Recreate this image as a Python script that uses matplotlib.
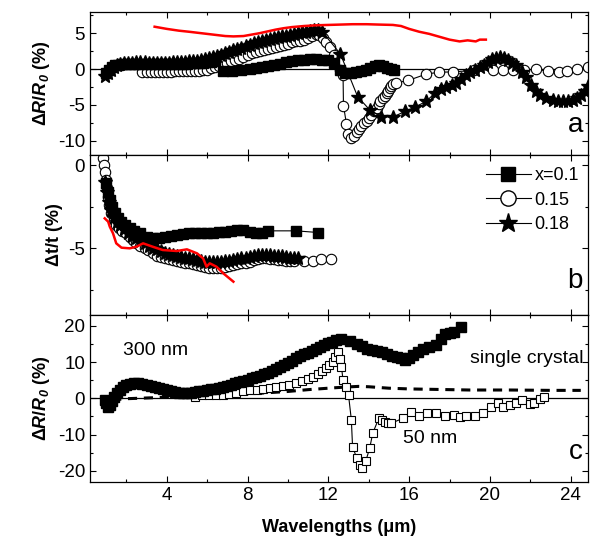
import matplotlib
matplotlib.use("Agg")
import matplotlib.pyplot as plt
from matplotlib.lines import Line2D
from matplotlib.ticker import MultipleLocator


OUTPUT_PNG = "out.png"

# ---- panel a: dR/R0 of films, x = 0.1 / 0.15 / 0.18 ----
A_SQ_X = [1.0, 1.15, 1.3, 1.45, 1.6, 1.8, 2.0, 2.2, 2.4, 2.6, 2.8, 3.0, 3.2, 3.4, 3.6,
          3.8, 4.0, 4.2, 4.4, 4.6, 4.8, 5.0, 5.2, 5.4, 5.6, 5.8, 6.0, 6.2, 6.4,
          6.8, 7.25, 7.7, 8.1, 8.4, 8.7, 9.0, 9.3, 9.6, 9.9, 10.2, 10.5, 10.8, 11.1,
          11.4, 11.7, 12.0, 12.3, 12.6, 12.85, 13.1, 13.35, 13.6, 13.85, 14.05, 14.3,
          14.5, 14.7, 14.9, 15.1, 15.25]
A_SQ_Y = [-0.6, -0.1, 0.3, 0.5, 0.6, 0.65, 0.7, 0.7, 0.75, 0.75, 0.75, 0.7, 0.7, 0.7, 0.7,
          0.7, 0.7, 0.7, 0.7, 0.75, 0.75, 0.75, 0.8, 0.8, 0.85, 0.9, 0.95, 1.0, 1.05,
          -0.25, -0.25, -0.1, 0.0, 0.1, 0.25, 0.4, 0.55, 0.75, 0.95, 1.1, 1.2, 1.3, 1.35,
          1.35, 1.3, 1.2, 0.8, -0.1, -0.5, -0.55, -0.45, -0.3, -0.1, 0.1, 0.4,
          0.6, 0.4, 0.1, -0.05, -0.1]

A_CI_X = [2.8, 3.0, 3.2, 3.4, 3.6, 3.8, 4.0, 4.2, 4.4, 4.6, 4.8, 5.0, 5.2, 5.4, 5.6, 5.8,
          6.0, 6.2, 6.4, 6.6, 6.8, 7.0, 7.2, 7.4, 7.6, 7.8, 8.0, 8.2, 8.4, 8.6, 8.8,
          9.0, 9.2, 9.4, 9.6, 9.8, 10.0, 10.2, 10.4, 10.6, 10.8, 11.0, 11.2, 11.4,
          11.55, 11.75, 11.9, 12.07, 12.3, 12.56, 12.73, 12.75, 12.9, 12.98, 13.14,
          13.25, 13.4, 13.5, 13.64, 13.75, 13.9, 14.0, 14.13, 14.25, 14.4, 14.5, 14.58,
          14.7, 14.8, 14.9, 14.96, 15.05, 15.1, 15.2, 15.34,
          15.95, 16.86, 17.47, 18.17, 19.2, 20.15, 20.65, 21.15, 21.7, 22.3, 22.9,
          23.4, 23.8, 24.3, 24.86]
A_CI_Y = [-0.4, -0.45, -0.45, -0.45, -0.4, -0.4, -0.35, -0.35, -0.3, -0.3, -0.3, -0.3,
          -0.3, -0.25, -0.25, -0.2, -0.1, 0.1, 0.25, 0.45, 0.65, 0.85, 1.05, 1.25, 1.45,
          1.7, 1.95, 2.2, 2.4, 2.55, 2.7, 2.8, 2.95, 3.1, 3.25, 3.4, 3.55, 3.7, 3.85,
          3.95, 4.1, 4.3, 4.6, 4.9, 4.8, 4.3, 3.7, 3.1, 2.0, -0.1, -0.9, -5.1, -7.7,
          -9.1, -9.6, -9.3, -8.8, -8.4, -8.0, -7.6, -7.3, -6.8, -6.35, -5.9, -5.4, -4.9,
          -4.5, -4.1, -3.8, -3.3, -3.0, -2.6, -2.4, -2.1, -1.95,
          -1.6, -0.7, -0.45, -0.4, -0.2, -0.1, -0.1, -0.2, -0.1, -0.05, -0.3,
          -0.4, -0.3, 0.0, 0.3]

A_ST_X = [0.95, 1.1, 1.25, 1.4, 1.55, 1.7, 1.9, 2.1, 2.3, 2.5, 2.7, 2.9, 3.1, 3.3, 3.5,
          3.7, 3.9, 4.1, 4.3, 4.5, 4.7, 4.9, 5.1, 5.3, 5.5, 5.7, 5.9, 6.1, 6.3, 6.5,
          6.7, 6.9, 7.1, 7.3, 7.5, 7.7, 7.9, 8.1, 8.3, 8.5, 8.7, 8.9, 9.1, 9.3, 9.5,
          9.7, 9.9, 10.1, 10.3, 10.5, 10.7, 10.9, 11.1, 11.3, 11.5, 11.7,
          12.6, 13.45, 14.05, 14.6, 15.2, 15.8, 16.3, 16.85, 17.3,
          17.6, 17.85, 18.1, 18.3, 18.55, 18.8, 19.0, 19.25, 19.5, 19.7, 19.9, 20.1,
          20.3, 20.5, 20.7, 20.9, 21.1, 21.3, 21.6, 21.8, 22.05, 22.3, 22.5, 22.8,
          23.1, 23.35, 23.6, 23.85, 24.1, 24.3, 24.5, 24.7, 24.85]
A_ST_Y = [-1.0, -0.6, -0.1, 0.3, 0.55, 0.7, 0.8, 0.85, 0.9, 0.95, 0.95, 0.95, 0.9, 0.9,
          0.9, 0.9, 0.9, 0.9, 0.95, 0.95, 1.0, 1.0, 1.05, 1.1, 1.15, 1.25, 1.4, 1.55,
          1.7, 1.85, 2.0, 2.2, 2.4, 2.6, 2.8, 3.0, 3.2, 3.4, 3.6, 3.8, 3.95, 4.1, 4.2,
          4.35, 4.45, 4.55, 4.65, 4.8, 4.9, 5.0, 5.1, 5.2, 5.35, 5.45, 5.4, 5.2,
          2.1, -3.85, -5.7, -6.65, -6.7, -5.9, -5.3, -4.5, -3.3,
          -2.8, -2.5, -2.2, -1.9, -1.4, -0.8, -0.4, -0.1, 0.3, 0.6, 1.0, 1.35,
          1.6, 1.7, 1.6, 1.3, 0.9, 0.6, -0.4, -1.1, -2.2, -3.1, -3.6, -4.0,
          -4.3, -4.4, -4.5, -4.4, -4.3, -4.0, -3.6, -3.0, -2.3]

A_RED_X = [3.4, 4.0, 4.6, 5.1, 5.7, 6.3, 6.9, 7.3, 7.8, 8.2, 8.6, 9.0, 9.4, 9.8, 10.2,
           10.8, 11.4, 12.0, 12.6, 13.2, 13.9, 14.5, 15.2, 15.6, 16.0, 16.5, 17.0,
           17.5, 18.0, 18.5, 18.9, 19.3, 19.5, 19.8]
A_RED_Y = [5.9, 5.6, 5.35, 5.2, 5.0, 4.8, 4.6, 4.55, 4.6, 4.8, 5.0, 5.25, 5.5, 5.7, 5.85,
           6.0, 6.1, 6.15, 6.2, 6.25, 6.25, 6.2, 6.15, 6.0, 5.6, 5.2, 4.9,
           4.5, 4.1, 3.85, 4.0, 3.85, 4.1, 4.1]

# ---- panel b: dt/t ----
B_SQ_X = [1.0, 1.1, 1.18, 1.3, 1.43, 1.6, 1.76, 1.95, 2.17, 2.4, 2.66, 3.0, 3.3, 3.6,
          3.9, 4.2, 4.5, 4.8, 5.1, 5.4, 5.7, 6.0, 6.3, 6.6, 6.9, 7.2, 7.5, 7.8, 8.1,
          8.4, 8.7, 9.0, 10.4, 11.5]
B_SQ_Y = [-1.1, -1.6, -2.1, -2.5, -2.9, -3.2, -3.4, -3.6, -3.8, -3.95, -4.1, -4.3,
          -4.35, -4.35, -4.3, -4.25, -4.2, -4.15, -4.1, -4.1, -4.1, -4.05, -4.05,
          -4.0, -4.0, -3.95, -3.9, -3.9, -4.0, -4.1, -4.05, -3.95, -3.95, -4.05]

B_CI_X = [0.86, 0.9, 0.93, 0.97, 1.02, 1.08, 1.15, 1.25, 1.37, 1.5, 1.65, 1.8, 2.0,
          2.17, 2.33, 2.5, 2.7, 2.9, 3.07, 3.3, 3.5, 3.7, 3.9, 4.1, 4.3, 4.5, 4.7,
          4.9, 5.1, 5.3, 5.5, 5.7, 5.9, 6.1, 6.3, 6.5, 6.7, 6.9, 7.1, 7.3, 7.5, 7.7,
          7.9, 8.1, 8.3, 8.5, 8.7, 8.9, 9.1, 9.3, 9.5, 9.7, 9.9, 10.1, 10.3, 10.8,
          11.25, 11.65, 12.15]
B_CI_Y = [0.4, 0.0, -0.4, -0.9, -1.4, -1.9, -2.4, -2.9, -3.3, -3.6, -3.8, -3.95, -4.1,
          -4.3, -4.5, -4.7, -4.85, -5.0, -5.1, -5.3, -5.45, -5.5, -5.6, -5.65, -5.7,
          -5.75, -5.8, -5.85, -5.9, -5.95, -6.0, -6.05, -6.1, -6.15, -6.2, -6.2,
          -6.15, -6.1, -6.05, -6.0, -5.95, -5.9, -5.85, -5.8, -5.7, -5.65, -5.6,
          -5.6, -5.62, -5.65, -5.7, -5.72, -5.75, -5.75, -5.75, -5.75, -5.75,
          -5.65, -5.65]

B_ST_X = [0.95, 1.05, 1.15, 1.25, 1.4, 1.55, 1.7, 1.9, 2.1, 2.3, 2.5, 2.7, 2.9, 3.1,
          3.3, 3.5, 3.7, 3.9, 4.1, 4.3, 4.5, 4.7, 4.9, 5.1, 5.3, 5.5, 5.7, 5.9, 6.1,
          6.3, 6.5, 6.7, 6.9, 7.1, 7.3, 7.5, 7.7, 7.9, 8.1, 8.3, 8.5, 8.7, 8.9, 9.1,
          9.3, 9.5, 9.7, 9.9, 10.1, 10.3, 10.5]
B_ST_Y = [-1.0, -1.6, -2.2, -2.7, -3.1, -3.4, -3.6, -3.85, -4.05, -4.25, -4.4, -4.55,
          -4.7, -4.85, -4.95, -5.05, -5.15, -5.25, -5.35, -5.4, -5.45, -5.5, -5.55,
          -5.6, -5.65, -5.7, -5.75, -5.8, -5.8, -5.8, -5.8, -5.8, -5.75, -5.75, -5.7,
          -5.65, -5.6, -5.55, -5.5, -5.45, -5.4, -5.4, -5.4, -5.4, -5.45, -5.45,
          -5.45, -5.5, -5.55, -5.6, -5.6]

B_RED_X = [0.93, 1.1, 1.18, 1.34, 1.5, 1.76, 2.17, 2.5, 2.83, 3.3, 3.8, 4.5, 5.0, 5.5,
           5.8, 5.97, 6.13, 6.46, 6.8, 7.3]
B_RED_Y = [-3.2, -3.4, -3.7, -4.1, -4.7, -4.96, -5.0, -4.9, -4.7, -4.9, -5.1, -5.16,
           -5.06, -5.3, -5.6, -6.1, -5.9, -6.1, -6.5, -7.0]

# ---- panel c: 300 nm film, 50 nm film, single crystal ----
C_300_X = [0.93, 1.0, 1.1, 1.2, 1.3, 1.4, 1.55, 1.7, 1.85, 2.0, 2.2, 2.4, 2.6, 2.8, 3.0,
           3.2, 3.4, 3.6, 3.8, 4.0, 4.2, 4.4, 4.6, 4.8, 5.0, 5.2, 5.4, 5.6, 5.8, 6.0,
           6.2, 6.4, 6.6, 6.8, 7.0, 7.2, 7.4, 7.6, 7.8, 8.0, 8.2, 8.4, 8.6, 8.8, 9.0,
           9.2, 9.4, 9.6, 9.8, 10.0, 10.2, 10.4, 10.6, 10.8, 11.0, 11.2, 11.4, 11.6,
           11.8, 12.0, 12.2, 12.4, 12.65,
           13.05, 13.4, 13.65, 13.9, 14.15, 14.4, 14.65, 14.9, 15.15, 15.4, 15.6, 15.8,
           16.0, 16.2, 16.45, 16.7, 17.0, 17.35, 17.6, 17.8, 18.0, 18.2, 18.55]
C_300_Y = [-0.5, -1.3, -2.3, -1.8, -0.8, 0.3, 1.4, 2.4, 3.1, 3.6, 4.0, 4.2, 4.2, 4.0,
           3.8, 3.5, 3.2, 2.9, 2.6, 2.3, 2.0, 1.8, 1.6, 1.5, 1.4, 1.5, 1.7, 1.9, 2.1,
           2.3, 2.5, 2.7, 2.95, 3.2, 3.5, 3.8, 4.1, 4.5, 4.85, 5.2, 5.5, 5.85, 6.2,
           6.6, 7.0, 7.5, 8.0, 8.6, 9.2, 9.8, 10.4, 11.0, 11.6, 12.1, 12.6, 13.2,
           13.7, 14.2, 14.7, 15.2, 15.6, 16.0, 16.4,
           15.8, 15.1, 14.4, 13.7, 13.4, 13.2, 12.8, 12.3, 11.8, 11.4, 11.0, 10.7,
           11.2, 11.9, 12.8, 13.7, 14.2, 14.6, 16.3, 17.8, 18.0, 18.2, 19.6]

C_50_X = [5.4, 5.75, 6.1, 6.45, 6.8, 7.1, 7.45, 7.8, 8.1, 8.45, 8.75, 9.1, 9.4, 9.75,
          10.05, 10.4, 10.7, 11.0, 11.25, 11.5, 11.7, 11.9, 12.05, 12.23, 12.35, 12.48,
          12.58, 12.65, 12.73, 12.9, 13.0, 13.14, 13.2, 13.4, 13.55, 13.67, 13.85,
          14.05, 14.2, 14.5, 14.65, 14.8, 14.95, 15.1, 15.7, 16.1, 16.5, 16.9, 17.35,
          17.76, 18.2, 18.5, 18.84, 19.25, 19.66, 20.07, 20.4, 20.65, 21.0, 21.3, 21.6,
          21.97, 22.2, 22.47, 22.7]
C_50_Y = [0.3, 0.9, 1.0, 0.8, 0.9, 1.1, 1.5, 1.9, 2.2, 2.4, 2.6, 2.8, 3.1, 3.4, 3.8,
          4.3, 4.8, 5.4, 6.0, 6.8, 7.6, 8.4, 9.2, 10.0, 11.5, 12.8, 10.8, 8.7, 5.0,
          3.2, 0.9, -5.9, -13.3, -16.4, -18.3, -19.2, -17.4, -13.7, -9.6, -5.5, -6.0,
          -6.4, -6.8, -6.9, -5.5, -3.7, -5.0, -4.1, -4.1, -4.8, -4.6, -5.2, -4.8, -4.8,
          -4.1, -2.3, -1.4, -2.3, -1.8, -1.4, -0.5, -1.6, -1.2, -0.3, 0.3]

C_XTAL_X = [1.3, 1.6, 2.0, 2.5, 3.0, 3.5, 4.0, 4.5, 5.0, 6.0, 7.0, 8.0, 9.0, 10.0, 11.0,
            12.0, 12.8, 13.5, 14.0, 15.0, 16.0, 17.0, 18.0, 19.0, 20.0, 21.0, 22.0,
            23.0, 24.5]
C_XTAL_Y = [-0.6, -0.3, -0.1, 0.0, 0.1, 0.2, 0.3, 0.4, 0.5, 0.7, 0.9, 1.2, 1.55, 1.9,
            2.4, 2.8, 3.1, 3.3, 3.2, 2.8, 2.6, 2.5, 2.4, 2.3, 2.3, 2.3, 2.25, 2.2, 2.2]

LEGEND_LABELS = ["x=0.1", "0.15", "0.18"]


def style_axis(ax, ylim, major, minor):
    ax.set_xlim(0.2, 24.85)
    ax.set_ylim(*ylim)
    ax.xaxis.set_major_locator(MultipleLocator(4))
    ax.xaxis.set_minor_locator(MultipleLocator(2))
    ax.yaxis.set_major_locator(MultipleLocator(major))
    ax.yaxis.set_minor_locator(MultipleLocator(minor))
    ax.tick_params(which="both", direction="in", top=True, right=True, labelsize=13.5)
    ax.tick_params(which="major", length=4, width=0.8)
    ax.tick_params(which="minor", length=2.5, width=0.8)
    for s in ax.spines.values():
        s.set_linewidth(0.9)


def main() -> None:
    plt.rcParams["font.family"] = ["Liberation Sans", "DejaVu Sans"]
    plt.rcParams["axes.unicode_minus"] = False
    plt.rcParams["mathtext.fontset"] = "custom"
    plt.rcParams["mathtext.rm"] = "Liberation Sans"
    plt.rcParams["mathtext.bf"] = "Liberation Sans:bold"
    plt.rcParams["mathtext.it"] = "Liberation Sans:italic"
    plt.rcParams["mathtext.bfit"] = "Liberation Sans:bold:italic"

    fig = plt.figure(figsize=(5.92, 5.43), dpi=100)
    left, width = 0.152, 0.841
    ax_a = fig.add_axes([left, 0.7145, width, 0.264])
    ax_b = fig.add_axes([left, 0.4199, width, 0.2946])
    ax_c = fig.add_axes([left, 0.1129, width, 0.307])

    line_kw = dict(color="black", lw=0.8)
    sq_kw = dict(marker="s", ms=6.5, mfc="black", mec="black", **line_kw)
    ci_kw = dict(marker="o", ms=7.5, mfc="white", mec="black", mew=0.8, **line_kw)
    st_kw = dict(marker="*", ms=10, mfc="black", mec="black", **line_kw)
    red_kw = dict(color="red", lw=1.8)

    # panel a
    ax_a.axhline(0, color="black", lw=0.9, zorder=1)
    ax_a.plot(A_CI_X, A_CI_Y, **ci_kw)
    ax_a.plot(A_SQ_X, A_SQ_Y, **sq_kw)
    ax_a.plot(A_ST_X, A_ST_Y, **st_kw)
    ax_a.plot(A_RED_X, A_RED_Y, **red_kw)
    style_axis(ax_a, (-12, 8), 5, 2.5)
    ax_a.tick_params(labelbottom=False)
    ax_a.set_ylabel(r"$\mathbf{\Delta}\mathbfit{R}\mathbf{/}\mathbfit{R}_\mathbfit{0}$ (%)",
                    fontsize=13, fontweight="bold", labelpad=4)
    ax_a.text(0.99, 0.21, "a", transform=ax_a.transAxes, ha="right", va="center", fontsize=20)

    # panel b
    ax_b.plot(B_CI_X, B_CI_Y, **ci_kw)
    ax_b.plot(B_ST_X, B_ST_Y, **st_kw)
    ax_b.plot(B_SQ_X, B_SQ_Y, **sq_kw)
    ax_b.plot(B_RED_X, B_RED_Y, **red_kw)
    style_axis(ax_b, (-9, 0.6), 5, 2.5)
    ax_b.tick_params(labelbottom=False)
    ax_b.set_ylabel("Δt/t (%)", fontsize=13, fontweight="bold", labelpad=4)
    ax_b.text(0.99, 0.21, "b", transform=ax_b.transAxes, ha="right", va="center", fontsize=20)

    handles = [
        Line2D([], [], marker="s", ms=10, mfc="black", mec="black", color="black", lw=0.8),
        Line2D([], [], marker="o", ms=11, mfc="white", mec="black", color="black", lw=0.8),
        Line2D([], [], marker="*", ms=14, mfc="black", mec="black", color="black", lw=0.8),
    ]
    ax_b.legend(handles, LEGEND_LABELS, loc="upper left", bbox_to_anchor=(0.795, 0.925),
                frameon=False, fontsize=13, handlelength=2.5, handletextpad=0.2,
                labelspacing=0.42, borderpad=0, borderaxespad=0)

    # panel c
    ax_c.axhline(0, color="black", lw=0.9, zorder=1)
    ax_c.plot(C_XTAL_X, C_XTAL_Y, color="black", lw=2.2, ls=(0, (3, 2.2)))
    ax_c.plot(C_50_X, C_50_Y, marker="s", ms=6.2, mfc="white", mec="black", mew=0.8, **line_kw)
    ax_c.plot(C_300_X, C_300_Y, marker="s", ms=6.5, mfc="black", mec="black", **line_kw)
    style_axis(ax_c, (-23, 23), 10, 5)
    ax_c.set_ylabel(r"$\mathbf{\Delta}\mathbfit{R}\mathbf{/}\mathbfit{R}_\mathbfit{0}$ (%)",
                    fontsize=13, fontweight="bold", labelpad=4)
    ax_c.set_xlabel("Wavelengths (μm)", fontsize=13, fontweight="bold", labelpad=11)
    ax_c.text(1.83, 13.2, "300 nm", ha="left", va="center", fontsize=14)
    ax_c.text(24.65, 11.0, "single crystal", ha="right", va="center", fontsize=14)
    ax_c.text(15.7, -11.0, "50 nm", ha="left", va="center", fontsize=14)
    ax_c.text(0.99, 0.18, "c", transform=ax_c.transAxes, ha="right", va="center", fontsize=20)

    fig.savefig(OUTPUT_PNG, dpi=100)


if __name__ == "__main__":
    main()
